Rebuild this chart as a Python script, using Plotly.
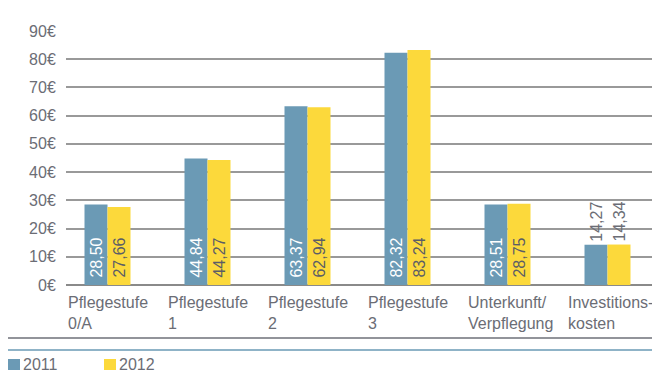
import plotly.graph_objects as go

categories = ["Pflegestufe 0/A", "Pflegestufe 1", "Pflegestufe 2", "Pflegestufe 3",
              "Unterkunft/Verpflegung", "Investitionskosten"]
category_labels = ["Pflegestufe<br>0/A", "Pflegestufe<br>1", "Pflegestufe<br>2",
                   "Pflegestufe<br>3", "Unterkunft/<br>Verpflegung", "Investitions-<br>kosten"]
series_names = ["2011", "2012"]
values_2011 = [28.50, 44.84, 63.37, 82.32, 28.51, 14.27]
values_2012 = [27.66, 44.27, 62.94, 83.24, 28.75, 14.34]
y_ticks = [0, 10, 20, 30, 40, 50, 60, 70, 80, 90]
EURO = "\u20ac"
y_tick_labels = [f"{v}{EURO}" for v in y_ticks]

BLUE = "#6b9ab5"
YELLOW = "#fcd93b"
GREY = "#6b6d75"
FONT = "Liberation Sans, Arial, sans-serif"
FS = 16

W, H = 652, 374
L, R, T, B = 66, 0, 31, 89
PW, PH = W - L - R, H - T - B
X_MIN, X_MAX = -0.415, 5.445


def fmt(v):
    return f"{v:.2f}".replace(".", ",")


positions = ["inside"] * 5 + ["outside"]

fig = go.Figure()
for name, vals, color, incol in [
    (series_names[0], values_2011, BLUE, "white"),
    (series_names[1], values_2012, YELLOW, "#5b5d66"),
]:
    fig.add_trace(go.Bar(
        x=categories, y=vals, name=name, marker=dict(color=color, line=dict(width=0)),
        text=[("\u00a0" + fmt(v)) if p == "inside" else fmt(v) for v, p in zip(vals, positions)],
        textposition=positions, textangle=-90,
        insidetextanchor="start", constraintext="none",
        textfont=dict(family=FONT, size=FS,
                      color=[incol if p == "inside" else GREY for p in positions]),
        cliponaxis=False,
    ))

annotations = []
for i, lab in enumerate(category_labels):
    xp = (i - 0.42 - X_MIN) / (X_MAX - X_MIN)
    annotations.append(dict(
        x=xp, y=(285 - 292) / PH, xref="paper", yref="paper", text=lab,
        showarrow=False, xanchor="left", yanchor="top", align="left",
        font=dict(family=FONT, size=FS, color=GREY),
    ))

shapes = [
    dict(type="line", xref="paper", yref="paper", x0=(8 - L) / PW, x1=1,
         y0=(285 - 338) / PH, y1=(285 - 338) / PH, line=dict(color="#6e7078", width=1.5)),
    dict(type="line", xref="paper", yref="paper", x0=(8 - L) / PW, x1=1,
         y0=(285 - 350) / PH, y1=(285 - 350) / PH, line=dict(color="#8fb3c7", width=2)),
]
# manual legend
for k, (name, color) in enumerate(zip(series_names, [BLUE, YELLOW])):
    x0 = 8 + 96 * k
    shapes.append(dict(type="rect", xref="paper", yref="paper",
                       x0=(x0 - L) / PW, x1=(x0 + 12 - L) / PW,
                       y0=(285 - 370) / PH, y1=(285 - 359) / PH,
                       fillcolor=color, line=dict(width=0)))
    annotations.append(dict(
        x=(x0 + 13 - L) / PW, y=(285 - 364.5) / PH, xref="paper", yref="paper",
        text=name, showarrow=False, xanchor="left", yanchor="middle",
        font=dict(family=FONT, size=FS, color=GREY),
    ))

fig.update_layout(
    width=W, height=H, margin=dict(l=L, r=R, t=T, b=B),
    paper_bgcolor="white", plot_bgcolor="white",
    barmode="group", bargap=0.54, bargroupgap=0,
    showlegend=False,
    font=dict(family=FONT, size=FS, color=GREY),
    xaxis=dict(range=[X_MIN, X_MAX], showticklabels=False, showgrid=False,
               zeroline=False, showline=False, ticks=""),
    yaxis=dict(range=[0, 90], tickmode="array", tickvals=y_ticks, ticktext=y_tick_labels,
               showgrid=True, gridcolor="#999999", gridwidth=1.5,
               zeroline=True, zerolinecolor="#8a8a8a", zerolinewidth=1.5,
               showline=False, ticks="outside", ticklen=6, tickcolor="rgba(0,0,0,0)",
               tickfont=dict(family=FONT, size=FS, color=GREY)),
    annotations=annotations, shapes=shapes,
)

fig.write_html("out.html")
